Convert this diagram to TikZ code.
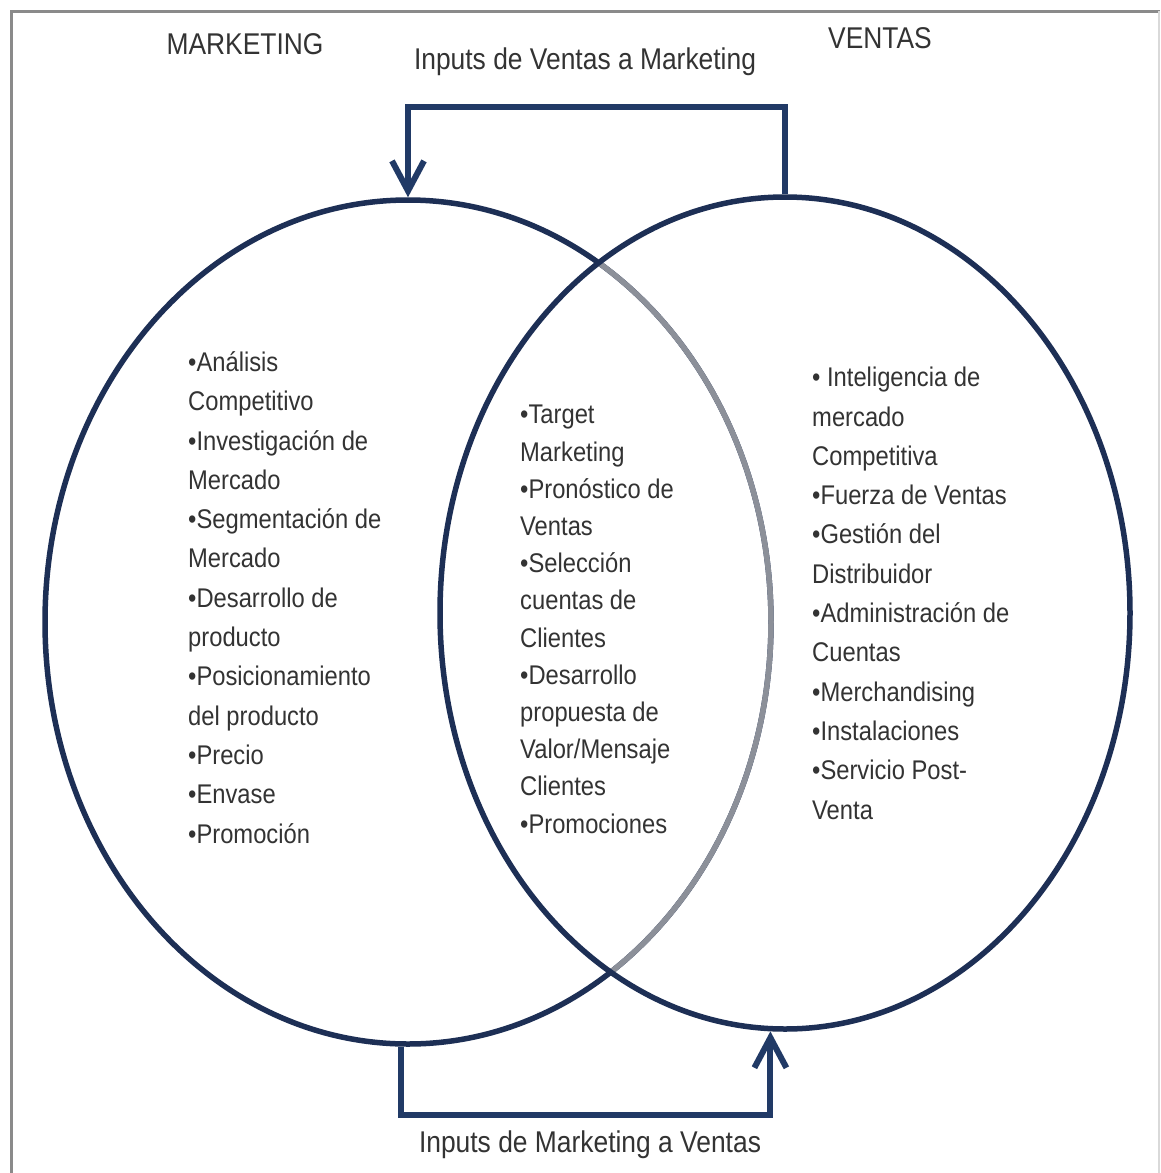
\documentclass[tikz,border=0pt]{standalone}
\usepackage{fontspec}
\usetikzlibrary{shapes.geometric,arrows.meta}
\newfontfamily\narrowsans{Liberation Sans}[FakeStretch=0.88]
\definecolor{navy}{HTML}{1D2F55}
\definecolor{navyarrow}{HTML}{213A66}
\definecolor{innergray}{HTML}{8C9099}
\definecolor{txt}{HTML}{333333}
\definecolor{framegray}{HTML}{8A8A8A}
\begin{document}
\begin{tikzpicture}[x=1pt,y=-1pt,
  set/.style={ellipse,draw=navy,line width=5.5pt,inner sep=0pt},
  heading/.style={font=\narrowsans\fontsize{30}{34}\selectfont,text=txt,inner sep=0pt},
  listtext/.style={font=\narrowsans\fontsize{27}{39.3}\selectfont,text=txt,align=left,inner sep=0pt,anchor=base west},
  flow/.style={draw=navyarrow,line width=6pt,-{Straight Barb[length=30pt,width=32pt]}}]
\useasboundingbox (0,0) rectangle (1160,1173);
\fill[white] (0,0) rectangle (1160,1173);
% frame
\draw[framegray,line width=3pt] (1160,11) -- (11,11) -- (11,1173);
\draw[gray!30,line width=1.5pt] (1159,11) -- (1159,1173);

% the two sets
\node[set,minimum width=726,minimum height=844] (mk) at (408,622) {};
\begin{scope}
  \clip (785,613) ellipse [x radius=345, y radius=416];
  \draw[innergray,line width=5.5pt] (408,622) ellipse [x radius=363, y radius=422];
\end{scope}
\node[set,minimum width=690,minimum height=832] (vt) at (785,613) {};

% titles
\node[heading] (tmk) at (245,44) {MARKETING};
\node[heading] (tvt) at (880,38) {VENTAS};
\node[heading] (tin1) at (585,62) {Inputs de Ventas a Marketing};
\node[heading] (tin2) at (590,1145) {Inputs de Marketing a Ventas};

% flows between the sets
\draw[flow] (vt.north) -- ++(0,-87) -| (mk.north);
\draw[flow] (mk.269.4) -- ++(0,68) -| (vt.268.9);

% contents (anchored at the baseline of the last line)
\node[listtext] (lmk) at (188,843) {•Análisis\\Competitivo\\•Investigación de\\Mercado\\•Segmentación de\\Mercado\\•Desarrollo de\\producto\\•Posicionamiento\\del producto\\•Precio\\•Envase\\•Promoción};
\node[listtext,font=\narrowsans\fontsize{27}{37.2}\selectfont] (lboth) at (520,833) {•Target\\Marketing\\•Pronóstico de\\Ventas\\•Selección\\cuentas de\\Clientes\\•Desarrollo\\propuesta de\\Valor/Mensaje\\Clientes\\•Promociones};
\node[listtext] (lvt) at (812,819) {• Inteligencia de\\mercado\\Competitiva\\•Fuerza de Ventas\\•Gestión del\\Distribuidor\\•Administración de\\Cuentas\\•Merchandising\\•Instalaciones\\•Servicio Post-\\Venta};
\end{tikzpicture}
\end{document}
